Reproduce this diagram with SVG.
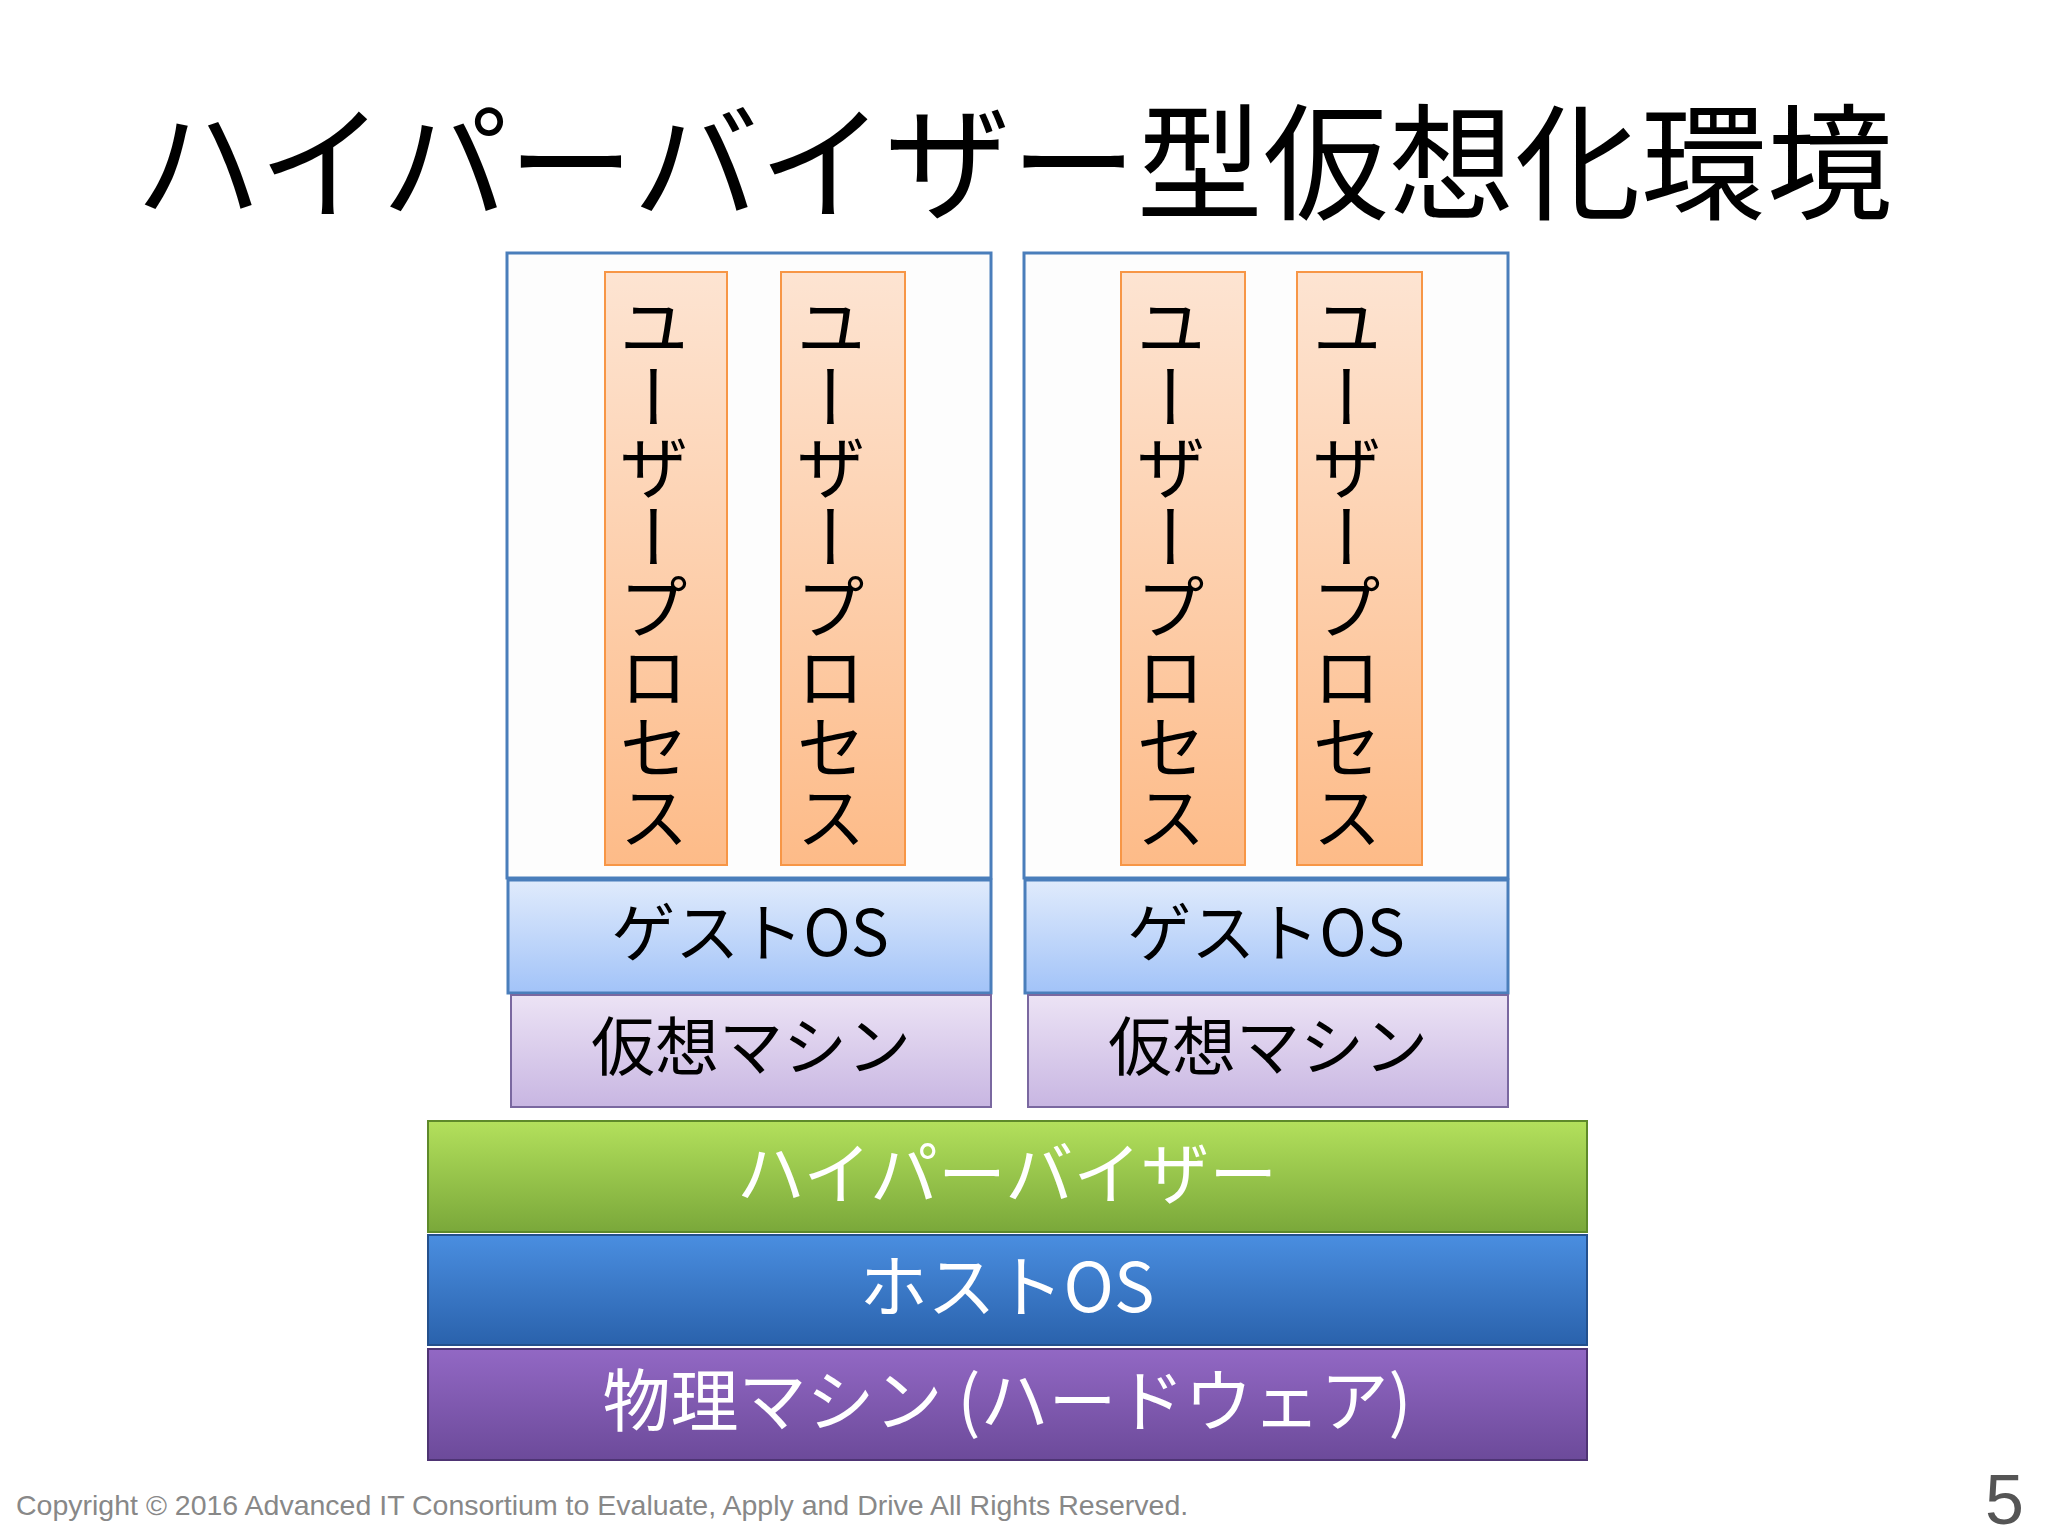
<svg xmlns="http://www.w3.org/2000/svg" width="2048" height="1536" viewBox="0 0 2048 1536">
<defs>
<linearGradient id="og" x1="0" y1="0" x2="0" y2="1"><stop offset="0" stop-color="#fde4d2"/><stop offset="1" stop-color="#fdbb88"/></linearGradient>
<linearGradient id="bg" x1="0" y1="0" x2="0" y2="1"><stop offset="0" stop-color="#e0ebfc"/><stop offset="1" stop-color="#a2c3f8"/></linearGradient>
<linearGradient id="pg" x1="0" y1="0" x2="0" y2="1"><stop offset="0" stop-color="#ece3f5"/><stop offset="1" stop-color="#c8b6e2"/></linearGradient>
<linearGradient id="gg" x1="0" y1="0" x2="0" y2="1"><stop offset="0" stop-color="#b3e05c"/><stop offset="1" stop-color="#7aa83a"/></linearGradient>
<linearGradient id="hg" x1="0" y1="0" x2="0" y2="1"><stop offset="0" stop-color="#4a8ee0"/><stop offset="1" stop-color="#2a62ac"/></linearGradient>
<linearGradient id="mg" x1="0" y1="0" x2="0" y2="1"><stop offset="0" stop-color="#9268c4"/><stop offset="1" stop-color="#6c4a9a"/></linearGradient>
</defs>
<style>
text{font-family:"Noto Sans CJK JP","Liberation Sans",sans-serif}
.c{stroke:#4a7ebb;stroke-width:3;fill:#fdfdfd}
.o{fill:url(#og);stroke:#f79646;stroke-width:2}
.v{writing-mode:vertical-rl;font-size:70px;fill:#000;text-anchor:middle}
.l{font-size:64px;text-anchor:middle;fill:#000}
.w{font-size:68px;text-anchor:middle;fill:#fff}
</style>
<rect width="2048" height="1536" fill="#fff"/>
<text x="1014" y="210" font-size="126" text-anchor="middle" fill="#000">ハイパーバイザー型仮想化環境</text>
<g id="vm1">
<rect class="c" x="507" y="253" width="484" height="625"/>
<rect class="o" x="605" y="272" width="122" height="593"/>
<text class="v" x="654" y="572">ユーザープロセス</text>
<rect class="o" x="781" y="272" width="124" height="593"/>
<text class="v" x="831" y="572">ユーザープロセス</text>
</g>
<g id="vm2">
<rect class="c" x="1024" y="253" width="484" height="625"/>
<rect class="o" x="1121" y="272" width="124" height="593"/>
<text class="v" x="1171" y="572">ユーザープロセス</text>
<rect class="o" x="1297" y="272" width="125" height="593"/>
<text class="v" x="1347" y="572">ユーザープロセス</text>
</g>
<g id="guest1"><rect x="508" y="880" width="483" height="113" fill="url(#bg)" stroke="#4a7ebb" stroke-width="3"/><text class="l" x="750" y="956">ゲストOS</text></g>
<g id="guest2"><rect x="1025" y="880" width="483" height="113" fill="url(#bg)" stroke="#4a7ebb" stroke-width="3"/><text class="l" x="1266" y="956">ゲストOS</text></g>
<g id="vmach1"><rect x="511" y="995" width="480" height="112" fill="url(#pg)" stroke="#7a68a0" stroke-width="2"/><text class="l" x="751" y="1070">仮想マシン</text></g>
<g id="vmach2"><rect x="1028" y="995" width="480" height="112" fill="url(#pg)" stroke="#7a68a0" stroke-width="2"/><text class="l" x="1268" y="1070">仮想マシン</text></g>
<g id="hyper"><rect x="428" y="1121" width="1159" height="111" fill="url(#gg)" stroke="#5e8a2a" stroke-width="2"/><text class="w" x="1007" y="1199">ハイパーバイザー</text></g>
<g id="host"><rect x="428" y="1235" width="1159" height="110" fill="url(#hg)" stroke="#24508c" stroke-width="2"/><text class="w" x="1007" y="1312">ホストOS</text></g>
<g id="hw"><rect x="428" y="1349" width="1159" height="111" fill="url(#mg)" stroke="#4e3474" stroke-width="2"/><text class="w" x="1007" y="1426">物理マシン (ハードウェア)</text></g>
<g id="connectors"/>
<text x="16" y="1515" font-size="28.5" fill="#888" style="font-family:'Liberation Sans',sans-serif">Copyright © 2016 Advanced IT Consortium to Evaluate, Apply and Drive All Rights Reserved.</text>
<text x="2024" y="1524" font-size="70" fill="#555" text-anchor="end" style="font-family:'Liberation Sans',sans-serif">5</text>
</svg>
